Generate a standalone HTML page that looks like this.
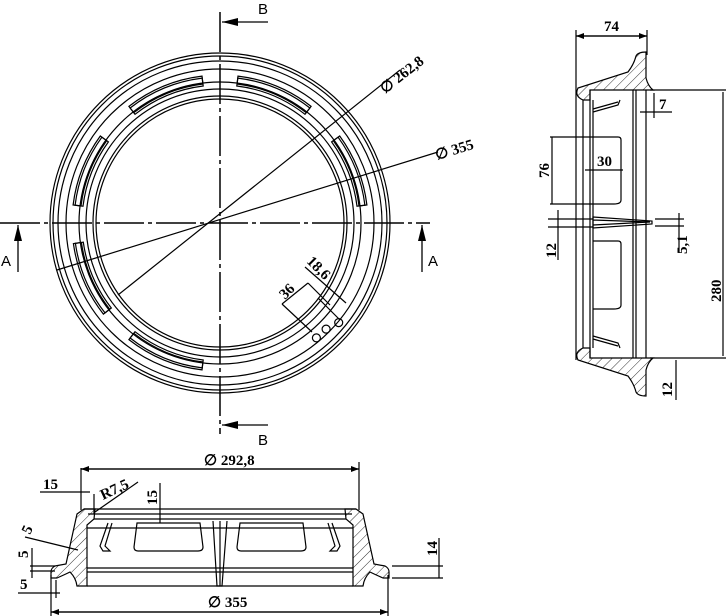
<!DOCTYPE html>
<html><head><meta charset="utf-8"><style>
html,body{margin:0;padding:0;background:#fff}
svg{display:block}
text{font-family:"Liberation Serif",serif;font-weight:bold;font-size:15px;fill:#000}
.s{font-family:"Liberation Sans",sans-serif;font-weight:normal;font-size:15px}
</style></head><body>
<svg id="d" width="728" height="616" viewBox="0 0 728 616" xmlns="http://www.w3.org/2000/svg" fill="none" stroke="#000" stroke-width="1.2">
<defs>
<pattern id="h" width="7" height="7" patternUnits="userSpaceOnUse" patternTransform="rotate(45)">
<line x1="0" y1="0" x2="0" y2="7" stroke="#000" stroke-width="0.8"/></pattern>
<marker id="ar" markerWidth="8" markerHeight="6" refX="8" refY="3" orient="auto" markerUnits="userSpaceOnUse"><path d="M0,0 L8,3 L0,6z" fill="#000" stroke="none"/></marker>
<marker id="ab" markerWidth="16" markerHeight="8" refX="16" refY="4" orient="auto" markerUnits="userSpaceOnUse"><path d="M0,0 L16,4 L0,8z" fill="#000" stroke="none"/></marker>
</defs>
<!-- TOP VIEW -->
<g id="circ">
<circle cx="220" cy="223" r="170"/><circle cx="220" cy="223" r="167"/><circle cx="220" cy="223" r="162"/>
<circle cx="220" cy="223" r="154"/><circle cx="220" cy="223" r="141"/><circle cx="220" cy="223" r="134"/>
<circle cx="220" cy="223" r="127"/><circle cx="220" cy="223" r="124"/>
</g>
<g id="slots"></g>
<line x1="220" y1="12" x2="220" y2="434" stroke-width="1.5" stroke-dasharray="40,4,4,4"/>
<line x1="0" y1="223" x2="430" y2="223" stroke-width="1.5" stroke-dasharray="40,4,4,4"/>
<line x1="268" y1="22" x2="222" y2="22" marker-end="url(#ab)" stroke-width="1.3"/>
<line x1="268" y1="425" x2="222" y2="425" marker-end="url(#ab)" stroke-width="1.3"/>
<line x1="18" y1="272" x2="18" y2="225" marker-end="url(#ab)" stroke-width="1.3"/>
<line x1="422" y1="272" x2="422" y2="225" marker-end="url(#ab)" stroke-width="1.3"/>
<text class="s" x="258" y="14" stroke="none">B</text>
<text class="s" x="258" y="445" stroke="none">B</text>
<text class="s" x="1" y="266" stroke="none">A</text>
<text class="s" x="428" y="266" stroke="none">A</text>
<line x1="118" y1="295" x2="400" y2="70"/>
<line x1="57" y1="270" x2="438" y2="152"/>
<text x="385" y="94" transform="rotate(-38 385 94)" stroke="none">∅ 262,8</text>
<text x="437" y="160" transform="rotate(-17 437 160)" stroke="none">∅ 355</text>
<line x1="305" y1="267" x2="346" y2="303"/>
<line x1="282" y1="304" x2="308" y2="283"/>
<line x1="282" y1="304" x2="312" y2="332"/>
<line x1="308" y1="283" x2="330" y2="305"/>
<line x1="318" y1="298" x2="340" y2="320"/>
<text x="306" y="262" transform="rotate(45 306 262)" stroke="none">18,6</text>
<text x="285" y="300" transform="rotate(-45 285 300)" stroke="none">36</text>
<!-- RIGHT VIEW -->
<line x1="576" y1="30" x2="576" y2="360"/>
<line x1="647" y1="30" x2="647" y2="55"/>
<line x1="576" y1="36" x2="647" y2="36" marker-end="url(#ar)"/>
<line x1="647" y1="36" x2="576" y2="36" marker-end="url(#ar)"/>
<text x="604" y="31" stroke="none">74</text>
<path d="M583,100 Q574,96 578,88 L628,72 Q634,64 636,56 Q638,52 646,52 L646,78 Q648,86 653,90 L590,90 L590,100z" fill="url(#h)"/>
<path d="M583,348 Q574,352 578,360 L628,376 Q634,384 636,392 Q638,396 646,396 L646,370 Q648,362 653,358 L590,358 L590,348z" fill="url(#h)"/>
<line x1="583" y1="100" x2="583" y2="348"/>
<line x1="590" y1="90" x2="590" y2="358"/>
<line x1="593" y1="100" x2="593" y2="348"/>
<line x1="633" y1="90" x2="633" y2="358"/>
<line x1="636" y1="90" x2="636" y2="358"/>
<line x1="646" y1="90" x2="646" y2="358"/>
<path d="M593,112 L618,105 L620,100 M593,109 L618,102"/>
<path d="M593,336 L618,343 L620,348 M593,339 L618,346"/>
<path d="M593,137 L618,137 Q621,137 621,140 L621,200 Q621,204 614,204 L593,204"/>
<path d="M593,241 L618,241 Q621,241 621,244 L621,305 Q621,309 614,309 L593,309"/>
<path d="M593,217 L652,221 L652,224 L593,228z M593,220 L650,222 L593,225"/>
<line x1="548" y1="219" x2="593" y2="219"/><line x1="548" y1="227" x2="593" y2="227"/>
<line x1="558" y1="210" x2="558" y2="260"/>
<text x="556" y="258" transform="rotate(-90 556 258)" stroke="none">12</text>
<line x1="550" y1="137" x2="593" y2="137"/><line x1="550" y1="204" x2="593" y2="204"/>
<line x1="552" y1="137" x2="552" y2="204"/>
<text x="549" y="178" transform="rotate(-90 549 178)" stroke="none">76</text>
<line x1="585" y1="170" x2="623" y2="170"/>
<text x="597" y="166" stroke="none">30</text>
<line x1="650" y1="90" x2="726" y2="90"/><line x1="650" y1="358" x2="726" y2="358"/>
<line x1="723" y1="92" x2="723" y2="356"/>
<text x="721" y="302" transform="rotate(-90 721 302)" stroke="none">280</text>
<line x1="640" y1="112" x2="672" y2="112"/><line x1="654" y1="93" x2="654" y2="118"/>
<text x="659" y="109" stroke="none">7</text>
<line x1="655" y1="219" x2="684" y2="219"/><line x1="655" y1="226" x2="684" y2="226"/>
<line x1="679" y1="213" x2="679" y2="253"/>
<text x="687" y="254" transform="rotate(-90 687 254)" stroke="none">5,1</text>
<line x1="676" y1="360" x2="676" y2="400"/>
<text x="672" y="397" transform="rotate(-90 672 397)" stroke="none">12</text>
<!-- BOTTOM VIEW -->
<line x1="81" y1="468" x2="81" y2="510"/><line x1="359" y1="462" x2="359" y2="510"/>
<line x1="81" y1="469" x2="359" y2="469" marker-end="url(#ar)"/><line x1="359" y1="469" x2="81" y2="469" marker-end="url(#ar)"/>
<text x="204" y="465" stroke="none">∅ 292,8</text>
<line x1="51" y1="575" x2="51" y2="616"/><line x1="388" y1="575" x2="388" y2="616"/>
<line x1="51" y1="612" x2="388" y2="612" marker-end="url(#ar)"/><line x1="388" y1="612" x2="51" y2="612" marker-end="url(#ar)"/>
<text x="208" y="607" stroke="none">∅ 355</text>
<path d="M84,509 L77,514 L66,564 L55,566 Q51,568 51,572 L51,578 L57,578 Q66,574 70,572 Q76,578 77,586 L87,586 L87,525 L94,519 L95,509z" fill="url(#h)"/>
<path d="M356,509 L363,514 L374,564 L385,566 Q389,568 389,572 L389,578 L383,578 Q374,574 370,572 Q364,578 363,586 L353,586 L353,525 L346,519 L345,509z" fill="url(#h)"/>
<line x1="84" y1="509" x2="356" y2="509"/><line x1="88" y1="514" x2="352" y2="514"/>
<line x1="94" y1="519" x2="346" y2="519"/>
<line x1="87" y1="528" x2="353" y2="528"/>
<line x1="87" y1="568" x2="353" y2="568"/><line x1="87" y1="572" x2="353" y2="572"/>
<line x1="87" y1="586" x2="353" y2="586"/>
<path d="M108,523 L100,546 L103,551 L110,551 L105,546 L112,523"/>
<path d="M332,523 L340,546 L337,551 L330,551 L335,546 L328,523"/>
<path d="M137,523 L200,523 L203,547 Q203,551 198,551 L138,551 Q134,551 134,547z"/>
<path d="M240,523 L303,523 L306,547 Q306,551 301,551 L241,551 Q237,551 237,547z"/>
<path d="M213,521 L217,586 L222,586 L227,521"/><line x1="220" y1="521" x2="220" y2="586"/>
<line x1="40" y1="492" x2="90" y2="492"/><line x1="94" y1="494" x2="94" y2="514"/>
<text x="43" y="489" stroke="none">15</text>
<line x1="95" y1="512" x2="138" y2="482"/>
<text x="103" y="500" transform="rotate(-25 103 500)" stroke="none">R7,5</text>
<line x1="160" y1="483" x2="160" y2="523"/>
<text x="157" y="505" transform="rotate(-90 157 505)" stroke="none">15</text>
<line x1="25" y1="537" x2="78" y2="550"/>
<text x="30" y="535" transform="rotate(-65 30 535)" stroke="none">5</text>
<line x1="30" y1="566" x2="55" y2="566"/><line x1="30" y1="571" x2="55" y2="571"/>
<line x1="32" y1="548" x2="32" y2="578"/>
<text x="28" y="558" transform="rotate(-90 28 558)" stroke="none">5</text>
<line x1="18" y1="593" x2="60" y2="593"/><line x1="56" y1="580" x2="56" y2="598"/>
<text x="20" y="589" stroke="none">5</text>
<line x1="392" y1="566" x2="443" y2="566"/><line x1="392" y1="578" x2="443" y2="578"/>
<line x1="439" y1="538" x2="439" y2="578"/>
<text x="437" y="556" transform="rotate(-90 437 556)" stroke="none">14</text>
</svg>
<script>
(function(){var g=document.getElementById('slots'),cx=220,cy=223,ns='http://www.w3.org/2000/svg';
function P(r,a){a=a*Math.PI/180;return (cx+r*Math.cos(a)).toFixed(1)+','+(cy+r*Math.sin(a)).toFixed(1);}
var R=[[-128,-97],[-83,-52],[-36,-7],[-144,-173],[172,142],[128,97]];
R.forEach(function(s){var a=s[0],b=s[1],sw=b>a?1:0;
[[138,148],[140,146]].forEach(function(rr){var p=document.createElementNS(ns,'path');
p.setAttribute('d','M'+P(rr[0],a)+' A'+rr[0]+','+rr[0]+' 0 0 '+sw+' '+P(rr[0],b)+' L'+P(rr[1],b)+' A'+rr[1]+','+rr[1]+' 0 0 '+(1-sw)+' '+P(rr[1],a)+'z');g.appendChild(p);});});
[[45,150],[50,150],[40,155]].forEach(function(s){var c=document.createElementNS(ns,'circle');var q=P(s[1],s[0]).split(',');c.setAttribute('cx',q[0]);c.setAttribute('cy',q[1]);c.setAttribute('r',4);g.appendChild(c);});
})();
</script>
</body></html>
